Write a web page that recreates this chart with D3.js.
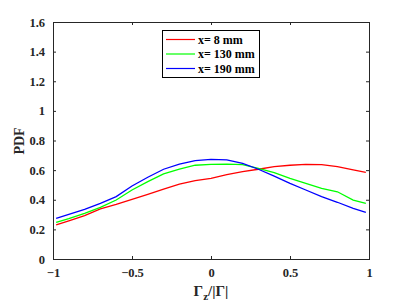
<!DOCTYPE html>
<html>
<head>
<meta charset="utf-8">
<script src="https://cdn.jsdelivr.net/npm/d3@7"></script>
<style>
  body { margin: 0; background: #fff; }
  svg { display: block; font-family: "Liberation Serif", "Times New Roman", serif; font-weight: bold; }
</style>
</head>
<body>
<div id="chart-mount"></div>
<script>
var WIDTH = 407;
var HEIGHT = 305;
var MARGIN = { top: 22, right: 38, bottom: 46, left: 53 };

// bin centres of Gamma_z / |Gamma|
var GAMMA = [-0.98, -0.9, -0.8, -0.7, -0.6, -0.5, -0.4, -0.3, -0.2, -0.1, 0,
  0.1, 0.2, 0.3, 0.4, 0.5, 0.6, 0.7, 0.8, 0.9, 0.98];
var PDF_8 = [0.23, 0.257, 0.293, 0.338, 0.369, 0.403, 0.437, 0.471, 0.506, 0.529, 0.545,
  0.569, 0.59, 0.606, 0.623, 0.633, 0.639, 0.637, 0.623, 0.601, 0.585];
var PDF_130 = [0.248, 0.272, 0.308, 0.349, 0.398, 0.466, 0.522, 0.574, 0.606, 0.633, 0.639,
  0.641, 0.637, 0.612, 0.583, 0.545, 0.511, 0.477, 0.454, 0.398, 0.376];
var PDF_190 = [0.275, 0.302, 0.335, 0.376, 0.421, 0.493, 0.552, 0.606, 0.641, 0.664, 0.673,
  0.669, 0.646, 0.606, 0.56, 0.511, 0.466, 0.421, 0.383, 0.342, 0.315];
var SERIES_NAMES = ['x= 8 mm', 'x= 130 mm', 'x= 190 mm'];
var SERIES_COLORS = ['#ff0000', '#00ff00', '#0000ff'];
var X_TICKS = [-1, -0.5, 0, 0.5, 1];
var Y_TICKS = [0, 0.2, 0.4, 0.6, 0.8, 1, 1.2, 1.4, 1.6];

var AXIS_COLOR = '#262626';
var innerW = WIDTH - MARGIN.left - MARGIN.right;
var innerH = HEIGHT - MARGIN.top - MARGIN.bottom;

var $svg = d3.select('#chart-mount').append('svg')
  .attr('width', WIDTH)
  .attr('height', HEIGHT);
var $plot = $svg.append('g')
  .attr('transform', 'translate(' + MARGIN.left + ',' + MARGIN.top + ')');

var x = d3.scaleLinear().domain([-1, 1]).range([0, innerW]);
var y = d3.scaleLinear().domain([0, 1.6]).range([innerH, 0]);

function fmt (d) { return d3.format('')(d); }

function styleAxis (g) {
  g.select('.domain').remove();
  g.selectAll('line').attr('stroke', AXIS_COLOR);
  g.selectAll('text')
    .attr('fill', AXIS_COLOR)
    .style('font-size', '12.5px')
    .style('font-family', '"Liberation Serif", serif')
    .style('font-weight', 'bold');
}

// bottom / left axes with inward ticks
$plot.append('g')
  .attr('transform', 'translate(0,' + innerH + ')')
  .call(d3.axisBottom(x).tickValues(X_TICKS).tickFormat(fmt).tickSizeInner(-3).tickPadding(9))
  .call(styleAxis);
$plot.append('g')
  .call(d3.axisLeft(y).tickValues(Y_TICKS).tickFormat(fmt).tickSizeInner(-3).tickPadding(8))
  .call(styleAxis);
// mirrored ticks on top / right, no labels
$plot.append('g')
  .call(d3.axisTop(x).tickValues(X_TICKS).tickFormat('').tickSizeInner(-3))
  .call(styleAxis);
$plot.append('g')
  .attr('transform', 'translate(' + innerW + ',0)')
  .call(d3.axisRight(y).tickValues(Y_TICKS).tickFormat('').tickSizeInner(-3))
  .call(styleAxis);

$plot.append('rect')
  .attr('x', 0.5).attr('y', 0.5)
  .attr('width', innerW).attr('height', innerH)
  .attr('fill', 'none')
  .attr('stroke', AXIS_COLOR)
  .attr('stroke-width', 1);

var line = d3.line()
  .x(function (d) { return x(d[0]); })
  .y(function (d) { return y(d[1]); });

[PDF_8, PDF_130, PDF_190].forEach(function (vals, i) {
  $plot.append('path')
    .datum(GAMMA.map(function (g, j) { return [g, vals[j]]; }))
    .attr('fill', 'none')
    .attr('stroke', SERIES_COLORS[i])
    .attr('stroke-width', 1.3)
    .attr('d', line);
});

// legend
var $legend = $svg.append('g').attr('transform', 'translate(162,30)');
$legend.append('rect')
  .attr('x', 0.5).attr('y', 0.5)
  .attr('width', 97).attr('height', 47)
  .attr('fill', '#fff')
  .attr('stroke', '#000')
  .attr('stroke-width', 1);
SERIES_NAMES.forEach(function (name, i) {
  var ly = 9.5 + i * 14.5;
  $legend.append('line')
    .attr('x1', 4).attr('x2', 33)
    .attr('y1', ly).attr('y2', ly)
    .attr('stroke', SERIES_COLORS[i])
    .attr('stroke-width', 1.2);
  $legend.append('text')
    .attr('x', 36).attr('y', ly + 4)
    .attr('fill', '#000')
    .style('font-size', '12px')
    .text(name);
});

// axis titles
$svg.append('text')
  .attr('transform', 'translate(24,141) rotate(-90)')
  .attr('text-anchor', 'middle')
  .attr('fill', AXIS_COLOR)
  .style('font-size', '14px')
  .text('PDF');

var $xlabel = $svg.append('text')
  .attr('x', MARGIN.left + innerW / 2)
  .attr('y', 296)
  .attr('text-anchor', 'middle')
  .attr('fill', AXIS_COLOR)
  .style('font-size', '15px');
$xlabel.append('tspan').text('\u0393');
$xlabel.append('tspan').attr('dy', 4).style('font-size', '11px').text('z');
$xlabel.append('tspan').attr('dy', -4).text('/|\u0393|');
</script>
</body>
</html>
